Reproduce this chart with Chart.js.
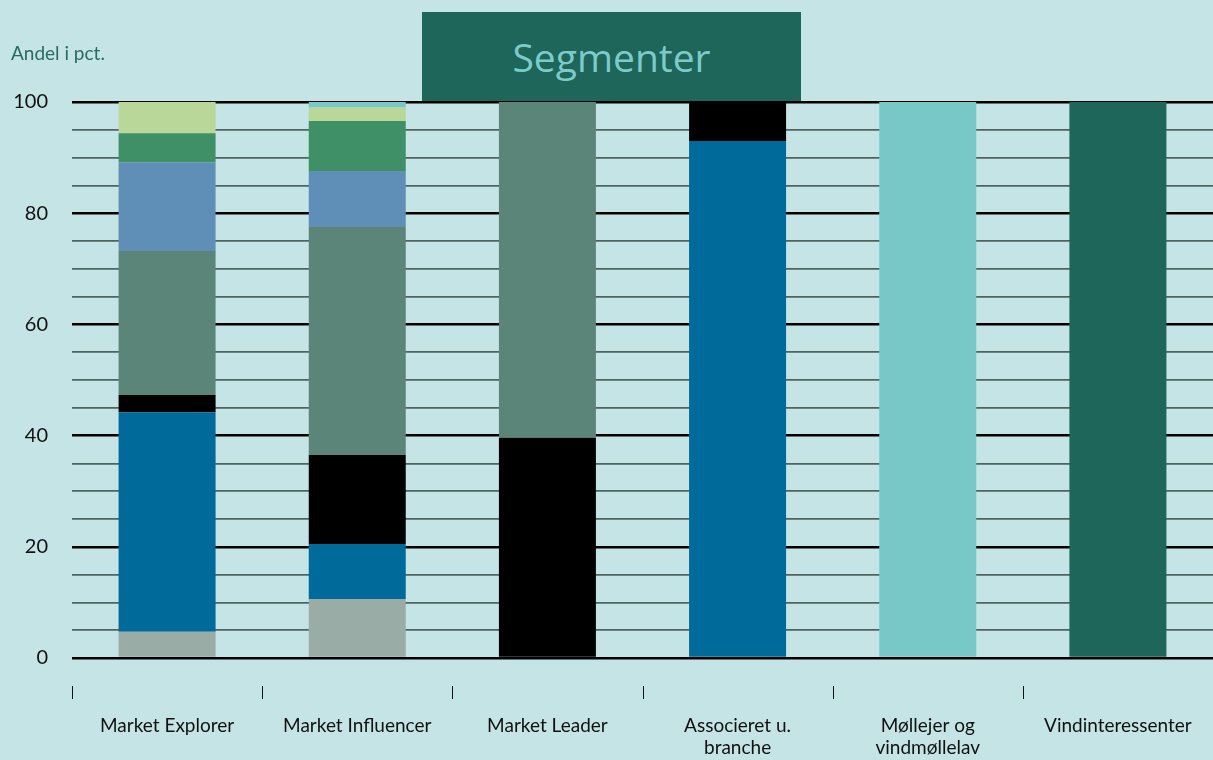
<!DOCTYPE html>
<html>
<head>
<meta charset="utf-8">
<script src="https://cdn.jsdelivr.net/npm/chart.js@4"></script>
<style>
  html, body { margin: 0; padding: 0; background: #c5e4e5; overflow: hidden; }
  #wrap { position: relative; width: 1213px; height: 760px; }
  #chart { position: absolute; left: 0; top: 0; }
  #ytitle { position: absolute; left: 11px; top: 41px; font-family: Lato, sans-serif; font-size: 19px; color: #2a6b5f; }
  #titlebox { position: absolute; left: 422px; top: 12px; width: 379px; height: 89px; background: #1d6659;
    color: #7ccaca; font-family: "Open Sans", sans-serif; font-size: 39px; display: flex; align-items: center; justify-content: center; }
</style>
</head>
<body>
<div id="wrap">
  <canvas id="chart" width="1213" height="760"></canvas>
  <div id="ytitle">Andel i pct.</div>
  <div id="titlebox">Segmenter</div>
</div>
<script>
const categories = ["Market Explorer", "Market Influencer", "Market Leader", ["Associeret u.", "branche"], ["Møllejer og", "vindmøllelav"], "Vindinteressenter"];

// stacked bottom to top
const grey = [4.7, 10.6, 0, 0, 0, 0];
const blue = [39.5, 9.9, 0, 93.0, 0, 0];
const black = [3.1, 16.0, 39.6, 7.0, 0, 0];
const tealGrey = [25.9, 41.0, 60.4, 0, 0, 0];
const blueGrey = [15.9, 10.1, 0, 0, 0, 0];
const green = [5.3, 9.0, 0, 0, 0, 0];
const lightGreen = [5.6, 2.4, 0, 0, 0, 0];
const cyan = [0, 1.0, 0, 0, 100, 0];
const darkGreen = [0, 0, 0, 0, 0, 100];

const yTicks = [0, 20, 40, 60, 80, 100];

const series = [
  { label: "grey", data: grey, color: "#9aaca6" },
  { label: "blue", data: blue, color: "#006a9a" },
  { label: "black", data: black, color: "#000000" },
  { label: "tealGrey", data: tealGrey, color: "#5c8579" },
  { label: "blueGrey", data: blueGrey, color: "#5f8fb7" },
  { label: "green", data: green, color: "#3f9067" },
  { label: "lightGreen", data: lightGreen, color: "#b8d798" },
  { label: "cyan", data: cyan, color: "#78c8c8" },
  { label: "darkGreen", data: darkGreen, color: "#1d6659" },
];

const datasets = series.map((s) => {
  return {
    label: s.label,
    data: s.data,
    backgroundColor: s.color,
    borderWidth: 0,
    barPercentage: 0.51,
    categoryPercentage: 1,
  };
});

// small marks between the categories, below the axis
const categoryMarks = {
  id: "categoryMarks",
  afterDraw(chart) {
    const x = chart.scales.x;
    const ctx = chart.ctx;
    const step = x.getPixelForValue(1) - x.getPixelForValue(0);
    ctx.save();
    ctx.strokeStyle = "#111";
    ctx.lineWidth = 1;
    categories.forEach((c, i) => {
      const px = Math.round(x.getPixelForValue(i) - step / 2) + 0.5;
      ctx.beginPath();
      ctx.moveTo(px, chart.chartArea.bottom + 28);
      ctx.lineTo(px, chart.chartArea.bottom + 41);
      ctx.stroke();
    });
    ctx.restore();
  },
};

new Chart(document.getElementById("chart"), {
  type: "bar",
  data: { labels: categories, datasets },
  options: {
    responsive: false,
    animation: false,
    layout: { padding: { top: 102, left: 0, right: 0, bottom: 0 } },
    plugins: { legend: { display: false }, tooltip: { enabled: false } },
    scales: {
      x: {
        stacked: true,
        grid: { display: false, drawTicks: false },
        border: { display: false },
        ticks: {
          padding: 57,
          color: "#111",
          font: { family: "Lato", size: 19, lineHeight: 1.15 },
          maxRotation: 0,
          autoSkip: false,
        },
        afterFit: (scale) => {
          scale.height = 102;
          scale.paddingLeft = 0;
          scale.paddingRight = 0;
        },
      },
      y: {
        stacked: true,
        min: 0,
        max: 100,
        border: { display: false },
        grid: {
          drawTicks: false,
          color: (ctx) => (yTicks.includes(ctx.tick.value) ? "#000" : "#4e6461"),
          lineWidth: (ctx) => (yTicks.includes(ctx.tick.value) ? 2.4 : 1.8),
        },
        ticks: {
          stepSize: 5,
          padding: 24,
          color: "#111",
          font: { family: "Lato", size: 20 },
          callback: (v) => (yTicks.includes(v) ? v : ""),
        },
        afterFit: (scale) => {
          scale.width = 72;
        },
      },
    },
  },
  plugins: [categoryMarks],
});
</script>
</body>
</html>
